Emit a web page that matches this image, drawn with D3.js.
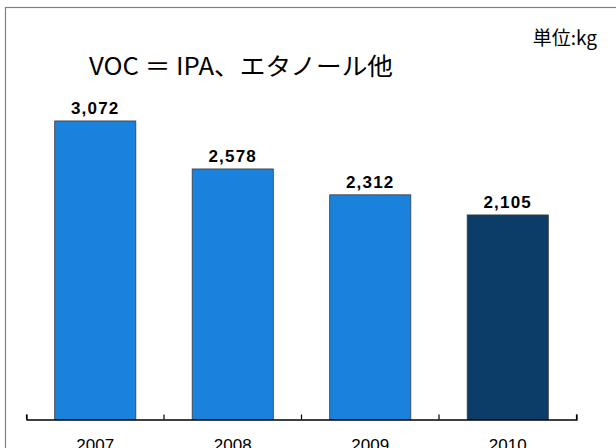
<!DOCTYPE html>
<html>
<head>
<meta charset="utf-8">
<script src="https://cdn.jsdelivr.net/npm/d3@7"></script>
<style>
  html, body { margin: 0; padding: 0; background: #fff; }
  svg { display: block; }
</style>
</head>
<body>
<svg id="chart" width="616" height="448"></svg>
<script>
const categories = ["2007", "2008", "2009", "2010"];
const values = [3072, 2578, 2312, 2105];
const barColors = ["#1a82dc", "#1a82dc", "#1a82dc", "#0c3d68"];
const titleText = "VOC ＝ IPA、エタノール他";
const unitText = "単位:kg";

const svg = d3.select("#chart");

// frame
svg.append("rect")
  .attr("x", 5.5).attr("y", 7.5)
  .attr("width", 640).attr("height", 480)
  .attr("fill", "#fff")
  .attr("stroke", "#808080")
  .attr("stroke-width", 1.2);

const x = d3.scaleBand().domain(categories).range([26.5, 576.5]).padding(0);
const y = d3.scaleLinear().domain([0, 3000]).range([419.5, 419.5 - 3000 * 0.09718]);

const barFrac = 0.59;
const bw = x.bandwidth() * barFrac;

svg.append("g").selectAll("rect")
  .data(values)
  .join("rect")
  .attr("x", (d, i) => x(categories[i]) + (x.bandwidth() - bw) / 2)
  .attr("y", d => y(d))
  .attr("width", bw)
  .attr("height", d => y(0) - y(d))
  .attr("fill", (d, i) => barColors[i])
  .attr("stroke", "#3a3a3a")
  .attr("stroke-width", 0.8);

// axis
const axis = d3.axisBottom(x).tickSize(0).tickSizeOuter(-5).tickFormat("");
const ag = svg.append("g").attr("transform", `translate(0,${y(0)})`).call(axis);
ag.select(".domain").attr("stroke", "#000").attr("stroke-width", 1.3);
ag.selectAll(".tick").remove();
const boundaries = categories.map(c => x(c)).concat([x(categories[categories.length - 1]) + x.bandwidth()]);
ag.selectAll("line.b")
  .data(boundaries)
  .join("line")
  .attr("class", "b")
  .attr("x1", d => d).attr("x2", d => d)
  .attr("y1", 0).attr("y2", -5)
  .attr("stroke", "#000").attr("stroke-width", 1.2);

// year labels
svg.append("g").selectAll("text")
  .data(categories)
  .join("text")
  .attr("x", d => x(d) + x.bandwidth() / 2)
  .attr("y", 451)
  .attr("text-anchor", "middle")
  .attr("font-family", "'Liberation Sans', Arial, sans-serif")
  .attr("font-size", 17)
  .attr("fill", "#000")
  .text(d => d);

// value labels
svg.append("g").selectAll("text")
  .data(values)
  .join("text")
  .attr("x", (d, i) => x(categories[i]) + x.bandwidth() / 2)
  .attr("y", d => y(d) - 6.5)
  .attr("text-anchor", "middle")
  .attr("font-family", "'Liberation Sans', Arial, sans-serif")
  .attr("font-weight", "bold")
  .attr("font-size", 17)
  .attr("letter-spacing", 1.2)
  .attr("fill", "#000")
  .text(d => d3.format(",")(d));

// title
svg.append("text")
  .attr("x", 89).attr("y", 75)
  .attr("font-family", "'Noto Sans CJK JP', sans-serif")
  .attr("font-size", 24)
  .attr("fill", "#000")
  .attr("textLength", 304)
  .attr("lengthAdjust", "spacingAndGlyphs")
  .text(titleText);

// unit
svg.append("text")
  .attr("x", 597).attr("y", 45)
  .attr("text-anchor", "end")
  .attr("font-family", "'Noto Sans CJK JP', sans-serif")
  .attr("font-size", 19)
  .attr("fill", "#000")
  .text(unitText);
</script>
</body>
</html>
